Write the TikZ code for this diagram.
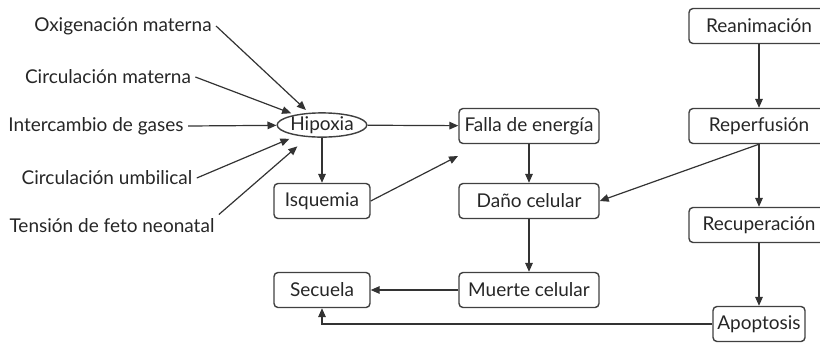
\documentclass[tikz,border=0pt]{standalone}
\usepackage{fontspec}
\setmainfont{Lato}
\usetikzlibrary{arrows.meta,shapes.geometric}
\begin{document}
\begin{tikzpicture}
[
x=0.5pt, y=-0.5pt,
every node/.style={font=\fontsize{9.5}{11}\selectfont, text=black!85},
box/.style={rectangle, rounded corners=2pt, draw=black!75, line width=0.7pt, minimum width=70pt, minimum height=17.5pt, inner sep=1pt},
oval/.style={ellipse, draw=black!75, line width=0.7pt, minimum width=41pt, minimum height=12pt, inner sep=0pt},
lbl/.style={inner sep=2pt},
flow/.style={-{Triangle[length=4.5pt,width=3.8pt]}, line width=0.6pt, black!80},
]
\useasboundingbox (0,0) rectangle (820,344);

% causas
\node [lbl] (O1) at (123, 26) {Oxigenación materna};
\node [lbl] (O2) at (108, 77) {Circulación materna};
\node [lbl] (O3) at ( 96,126) {Intercambio de gases};
\node [lbl] (O4) at (107,178) {Circulación umbilical};
\node [lbl] (O5) at (112,226) {Tensión de feto neonatal};

\node [oval] (Hip) at (322,125) {Hipoxia};
\node [box, minimum width=48pt] (Isq) at (322,201) {Isquemia};
\node [box, minimum width=48pt] (Sec) at (322,290) {Secuela};

\node [box] (Fal) at (529,126) {Falla de energía};
\node [box] (Dan) at (529,201) {Daño celular};
\node [box] (Mue) at (529,290) {Muerte celular};

\node [box] (Rea) at (759, 26) {Reanimación};
\node [box] (Rep) at (759,126) {Reperfusión};
\node [box] (Rec) at (759,225) {Recuperación};
\node [box, minimum width=46pt] (Apo) at (759,324) {Apoptosis};

\coordinate (F1) at (458,156);

%
\draw [flow, shorten >=2pt] (O1.east) -- (Hip);
\draw [flow, shorten >=2pt] (O2.east) -- (Hip);
\draw [flow] (O3.east) -- (Hip);
\draw [flow, shorten >=4pt] (O4.east) -- (Hip);
\draw [flow, shorten >=7pt] (O5.north east) -- (Hip);
%
\draw [flow] (Hip) -- (Fal);
\draw [flow] (Hip) -- (Isq);
\draw [flow] (Isq.east) -- (F1);
\draw [flow] (Fal) -- (Dan);
\draw [flow] (Dan) -- (Mue);
\draw [flow] (Mue) -- (Sec);
%
\draw [flow] (Rea) -- (Rep);
\draw [flow] (Rep.south) -- (Dan.east);
\draw [flow] (Rep) -- (Rec);
\draw [flow] (Rec) -- (Apo);
\draw [flow] (Apo.west) -| (Sec.south);
%
\end{tikzpicture}
\end{document}
